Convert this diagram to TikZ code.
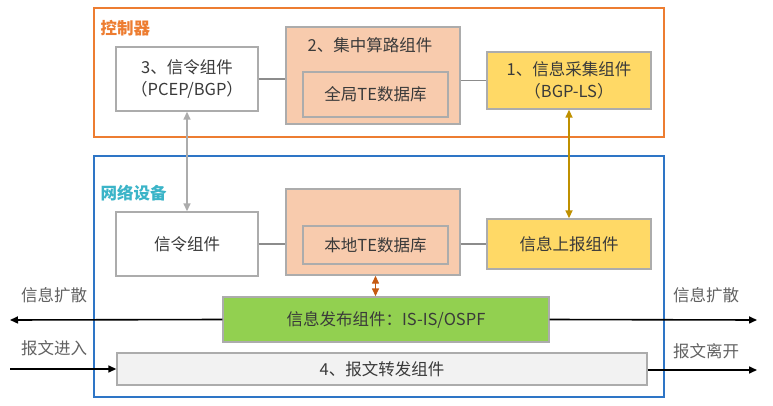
\documentclass[tikz,border=0pt]{standalone}
\usepackage{fontspec}
\setmainfont{Noto Sans CJK SC}
\usetikzlibrary{arrows.meta}
\definecolor{ctrlorange}{HTML}{ED7D31}
\definecolor{netblue}{HTML}{2E75C6}
\definecolor{nettitle}{HTML}{3BB4C8}
\definecolor{boxgray}{HTML}{ACACAC}
\definecolor{txtgray}{HTML}{3A3A3A}
\definecolor{peach}{HTML}{F8CBAD}
\definecolor{sunyellow}{HTML}{FFD966}
\definecolor{leafgreen}{HTML}{92D050}
\definecolor{paleground}{HTML}{F2F2F2}
\definecolor{linkgray}{HTML}{8C8C8C}
\definecolor{goldlink}{HTML}{BF9000}
\definecolor{rustlink}{HTML}{C55A11}
\begin{document}
\begin{tikzpicture}[x=1pt, y=-1pt,
    box/.style={draw=boxgray, line width=1.4pt, text=txtgray, inner sep=0pt,
      align=center, font=\fontsize{16.5}{22}\selectfont},
    plain/.style={text=txtgray, inner sep=0pt, font=\fontsize{16.5}{22}\selectfont},
    frame/.style={line width=2pt, inner sep=0pt},
    title/.style={anchor=west, font=\fontsize{16.5}{18}\selectfont\bfseries},
    outlabel/.style={text=txtgray!80, font=\fontsize{16.5}{18}\selectfont},
    tip/.style={-{Triangle[length=8pt,width=7pt]}},
    twotip/.style={{Triangle[length=8pt,width=7pt]}-{Triangle[length=8pt,width=7pt]}}]
  \useasboundingbox (0,0) rectangle (773,406);
  \def\wa{142}
  \def\wb{174}
  \def\wc{164}
  % controller
  \node[frame, draw=ctrlorange, minimum width=570, minimum height=129] (ctrl) at (379,72.5) {};
  \node[title, text=ctrlorange] (ctrltitle) at (97,28) {控制器};
  \node[box, fill=white, minimum width=\wa, minimum height=64] (sigc) at (187,79)
    {3、信令组件\\（PCEP/BGP）};
  \node[box, fill=peach, minimum width=\wb, minimum height=97] (calc) at (373,75.5) {};
  \node[plain] (calctext) at (370,45) {2、集中算路组件};
  \node[box, fill=peach, minimum width=145, minimum height=45] (gdb) at (375.5,94.5) {全局TE数据库};
  \node[box, fill=sunyellow, minimum width=\wc, minimum height=57] (collect) at (569,80.5)
    {1、信息采集组件\\（BGP-LS）};
  \draw[linkgray, line width=1.6pt] (sigc.east) -- (calc.west |- sigc.east);
  \draw[linkgray, line width=1.6pt] (calc.east |- collect.west) -- (collect.west);
  % network device
  \node[frame, draw=netblue, minimum width=570, minimum height=241] (dev) at (379,276.5) {};
  \node[title, text=nettitle] (devtitle) at (97,193) {网络设备};
  \node[box, fill=white, minimum width=\wa, minimum height=64] (sigd) at (187,244) {信令组件};
  \node[box, fill=peach, minimum width=\wb, minimum height=86] (local) at (373,232) {};
  \node[box, fill=peach, minimum width=145, minimum height=38] (ldb) at (375.5,245) {本地TE数据库};
  \node[box, fill=sunyellow, minimum width=\wc, minimum height=50] (report) at (569,244) {信息上报组件};
  \node[box, fill=leafgreen, minimum width=326, minimum height=45] (pub) at (386,319.5)
    {信息发布组件：IS-IS/OSPF};
  \node[box, fill=paleground, minimum width=530, minimum height=32] (fwd) at (382,369) {4、报文转发组件};
  \draw[linkgray, line width=1.6pt] (sigd.east) -- (local.west |- sigd.east);
  \draw[linkgray, line width=1.6pt] (local.east |- report.west) -- (report.west);
  % links between
  \draw[twotip, boxgray, line width=1.6pt] (sigc.south) -- (sigd.north);
  \draw[twotip, goldlink, line width=1.6pt] (collect.south) -- (report.north);
  \draw[twotip, rustlink, line width=1.4pt] (local.south -| ldb.south) -- (pub.north -| ldb.south);
  % outside
  \coordinate (westout) at (10,320);
  \coordinate (eastout) at (757,320);
  \coordinate (westin) at (10,369);
  \coordinate (eastleave) at (757,370);
  \draw[tip, line width=1.6pt] (pub.west) -- (westout);
  \draw[tip, line width=1.6pt] (pub.east) -- (eastout);
  \draw[tip, line width=1.6pt] (westin) -- (fwd.west);
  \draw[tip, line width=1.6pt] (fwd.east |- eastleave) -- (eastleave);
  \node[outlabel] (spreadw) at (54,295) {信息扩散};
  \node[outlabel] (spreade) at (706,295) {信息扩散};
  \node[outlabel] (enter) at (54,348) {报文进入};
  \node[outlabel] (leave) at (706,351) {报文离开};
\end{tikzpicture}
\end{document}
